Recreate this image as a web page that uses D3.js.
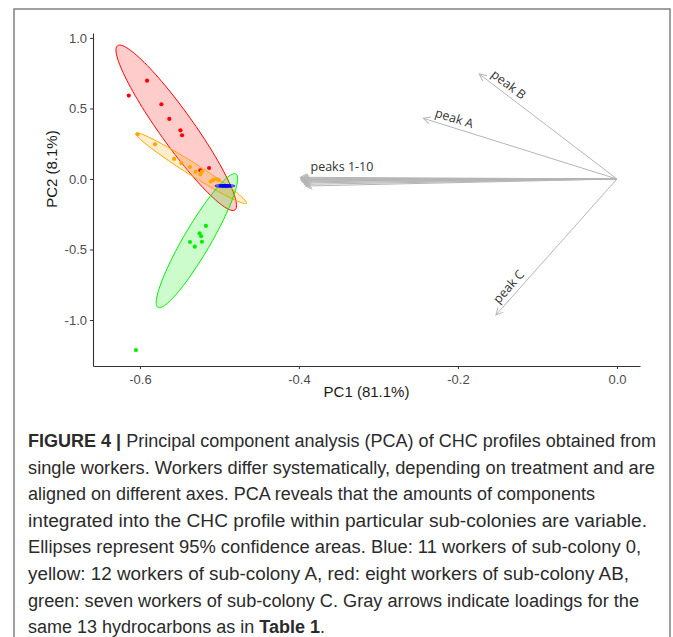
<!DOCTYPE html>
<html>
<head>
<meta charset="utf-8">
<script src="https://cdn.jsdelivr.net/npm/d3@7"></script>
<style>
  body { margin: 0; background: #fff; }
  svg { display: block; }
</style>
</head>
<body>
<div id="chart"></div>
<script>
// tick values
const xTicks = [-0.6, -0.4, -0.2, 0.0]
const yTicks = [1.0, 0.5, 0.0, -0.5, -1.0]

// sub-colonies (order = drawing order)
const groups = ['AB', 'A', 'C', '0']

// PCA scores
const scoresAB = [
  [-0.614, 0.591], [-0.591, 0.697], [-0.573, 0.530], [-0.563, 0.426],
  [-0.549, 0.345], [-0.547, 0.310], [-0.513, 0.078], [-0.524, 0.062]
]
const scoresA = [
  [-0.603, 0.317], [-0.581, 0.246], [-0.557, 0.142], [-0.548, 0.113],
  [-0.537, 0.085], [-0.530, 0.050], [-0.524, 0.033], [-0.522, 0.052],
  [-0.511, -0.018], [-0.508, -0.007], [-0.504, 0.000], [-0.501, -0.007]
]
const scoresC = [
  [-0.517, -0.333], [-0.525, -0.385], [-0.523, -0.406], [-0.537, -0.447],
  [-0.531, -0.480], [-0.522, -0.445], [-0.605, -1.213]
]
const scores0 = [
  [-0.499, -0.049], [-0.497, -0.048], [-0.496, -0.050], [-0.495, -0.048],
  [-0.494, -0.049], [-0.493, -0.048], [-0.492, -0.050], [-0.491, -0.049],
  [-0.490, -0.048], [-0.489, -0.049], [-0.487, -0.049]
]

// 95% ellipses: centre, end of major axis, end of minor axis (data units)
const ellipseCenter = [[-0.5543, 0.3631], [-0.5355, 0.0759], [-0.5283, -0.4376], [-0.4931, -0.0490]]
const ellipseMajor = [[-0.6281, 0.9454], [-0.6050, 0.3241], [-0.4792, 0.0355], [-0.4805, -0.0490]]
const ellipseMinor = [[-0.5370, 0.4333], [-0.5314, 0.1121], [-0.5136, -0.4858], [-0.4931, -0.0390]]

// loadings
const loadingNames = ['peak A', 'peak B', 'peak C', 'peaks 1-10',
  '', '', '', '', '', '', '', '', '']
const loadingX = [-0.2436, -0.1732, -0.1522, -0.398, -0.397, -0.398, -0.396,
  -0.397, -0.395, -0.396, -0.394, -0.393, -0.392]
const loadingY = [0.4303, 0.7447, -0.9645, 0.012, 0.005, 0.000, -0.004,
  -0.009, -0.014, -0.020, -0.028, -0.038, -0.050]

const captionLines = [
  ['FIGURE 4 | ', 'Principal component analysis (PCA) of CHC profiles obtained from'],
  ['', 'single workers. Workers differ systematically, depending on treatment and are'],
  ['', 'aligned on different axes. PCA reveals that the amounts of components'],
  ['', 'integrated into the CHC profile within particular sub-colonies are variable.'],
  ['', 'Ellipses represent 95% confidence areas. Blue: 11 workers of sub-colony 0,'],
  ['', 'yellow: 12 workers of sub-colony A, red: eight workers of sub-colony AB,'],
  ['', 'green: seven workers of sub-colony C. Gray arrows indicate loadings for the'],
  ['', 'same 13 hydrocarbons as in ', 'Table 1', '.']
]
const captionWidths = [628, 627, 528, 619, 613, 601, 611, 297]

const W = 673
const H = 637
const margin = { top: 33, left: 93, right: 33, bottom: 271 }

const svg = d3.select('#chart').append('svg')
  .attr('width', W)
  .attr('height', H)

// frame around figure
svg.append('rect')
  .attr('x', 14).attr('y', 9)
  .attr('width', 656).attr('height', 660)
  .attr('fill', 'none')
  .attr('stroke', '#808080')
  .attr('stroke-width', 1.5)

const x = d3.scaleLinear().domain([-0.659, 0.029]).range([margin.left, W - margin.right])
const y = d3.scaleLinear().domain([-1.326, 1.035]).range([H - margin.bottom, margin.top])

const color = d3.scaleOrdinal().domain(groups).range(['#ff0000', '#ffa500', '#00ee00', '#0000ff'])
const scoreSets = [scoresAB, scoresA, scoresC, scores0]

// ellipses
const ellipseLine = d3.line().x(d => x(d[0])).y(d => y(d[1])).curve(d3.curveLinearClosed)
const steps = d3.range(0, 120)
groups.forEach(function(g, i) {
  const c = ellipseCenter[i]
  const a = [ellipseMajor[i][0] - c[0], ellipseMajor[i][1] - c[1]]
  const b = [ellipseMinor[i][0] - c[0], ellipseMinor[i][1] - c[1]]
  const pts = steps.map(function(s) {
    const t = (s / 120) * 2 * Math.PI
    return [c[0] + a[0] * Math.cos(t) + b[0] * Math.sin(t),
            c[1] + a[1] * Math.cos(t) + b[1] * Math.sin(t)]
  })
  svg.append('path')
    .attr('d', ellipseLine(pts))
    .attr('fill', color(g))
    .attr('fill-opacity', 0.2)
    .attr('stroke', color(g))
    .attr('stroke-width', 1)
})

// points
groups.forEach(function(g, i) {
  svg.append('g')
    .selectAll('circle')
    .data(scoreSets[i])
    .enter()
    .append('circle')
    .attr('cx', d => x(d[0]))
    .attr('cy', d => y(d[1]))
    .attr('r', g === '0' ? 1.6 : 2.1)
    .attr('fill', color(g))
})

// arrows
svg.append('defs').append('marker')
  .attr('id', 'head')
  .attr('markerUnits', 'userSpaceOnUse')
  .attr('viewBox', '-8 -5 10 10')
  .attr('refX', 0).attr('refY', 0)
  .attr('markerWidth', 10).attr('markerHeight', 10)
  .attr('orient', 'auto')
  .append('path')
  .attr('d', 'M-7,-3.5L0,0L-7,3.5')
  .attr('fill', 'none')
  .attr('stroke', '#b5b5b5')
  .attr('stroke-width', 1)

const loadings = loadingNames.map((n, i) => ({ name: n, x: loadingX[i], y: loadingY[i] }))

svg.append('g')
  .selectAll('line')
  .data(loadings)
  .enter()
  .append('line')
  .attr('x1', x(0)).attr('y1', y(0))
  .attr('x2', d => x(d.x)).attr('y2', d => y(d.y))
  .attr('stroke', '#b5b5b5')
  .attr('stroke-width', 1)
  .attr('marker-end', 'url(#head)')

svg.append('g')
  .selectAll('text')
  .data(loadings.filter(d => d.name !== ''))
  .enter()
  .append('text')
  .attr('transform', function(d) {
    const dx = x(0) - x(d.x)
    const dy = y(0) - y(d.y)
    const ang = d.name === 'peaks 1-10' ? 0 : Math.atan2(dy, dx) * 180 / Math.PI
    return 'translate(' + x(d.x) + ',' + y(d.y) + ') rotate(' + ang + ')'
  })
  .attr('x', 10)
  .attr('y', d => d.name === 'peaks 1-10' ? -6 : -5)
  .text(d => d.name)
  .attr('font-family', 'Open Sans, sans-serif')
  .attr('font-size', 12.5)
  .attr('fill', '#333')

// axes
const xAxis = svg.append('g')
  .attr('transform', 'translate(0,' + (H - margin.bottom) + ')')
  .call(d3.axisBottom(x).tickValues(xTicks).tickSize(3).tickSizeOuter(0).tickFormat(d3.format('.1f')))
const yAxis = svg.append('g')
  .attr('transform', 'translate(' + margin.left + ',0)')
  .call(d3.axisLeft(y).tickValues(yTicks).tickSize(3).tickSizeOuter(0).tickFormat(d3.format('.1f')))

;[xAxis, yAxis].forEach(function(ax) {
  ax.select('.domain').attr('stroke', '#333').attr('stroke-width', 1.1)
  ax.selectAll('.tick line').attr('stroke', '#333')
  ax.selectAll('.tick text')
    .attr('font-family', '"Liberation Sans", Arial, sans-serif')
    .attr('font-size', 13)
    .attr('fill', '#4d4d4d')
    .text(d => d3.format('.1f')(d).replace('−', '-'))
})
xAxis.selectAll('.tick text').attr('dy', '0.9em')

svg.append('text')
  .attr('x', (margin.left + W - margin.right) / 2)
  .attr('y', 397)
  .attr('text-anchor', 'middle')
  .attr('font-family', '"Liberation Sans", Arial, sans-serif')
  .attr('font-size', 15)
  .attr('fill', '#1a1a1a')
  .text('PC1 (81.1%)')

svg.append('text')
  .attr('transform', 'translate(57,' + y(0.07) + ') rotate(-90)')
  .attr('text-anchor', 'middle')
  .attr('font-family', '"Liberation Sans", Arial, sans-serif')
  .attr('font-size', 15)
  .attr('fill', '#1a1a1a')
  .text('PC2 (8.1%)')

// caption
const caption = svg.append('g')
captionLines.forEach(function(parts, i) {
  const t = caption.append('text')
    .attr('x', 28)
    .attr('y', 447 + i * 26.6)
    .attr('font-family', '"Liberation Sans", Arial, sans-serif')
    .attr('font-size', 18)
    .attr('fill', '#2b2b2b')
  parts.forEach(function(p, j) {
    if (p === '') return
    const bold = (i === 0 && j === 0) || (i === 7 && j === 2)
    t.append('tspan')
      .text(p)
      .attr('font-weight', bold ? 'bold' : 'normal')
  })
  // fit the line to the width in the picture only when it is close already
  const natural = t.node().getComputedTextLength()
  const ratio = captionWidths[i] / natural
  if (ratio > 0.96 && ratio < 1.08) {
    t.attr('textLength', captionWidths[i]).attr('lengthAdjust', 'spacingAndGlyphs')
  }
})
</script>
</body>
</html>
